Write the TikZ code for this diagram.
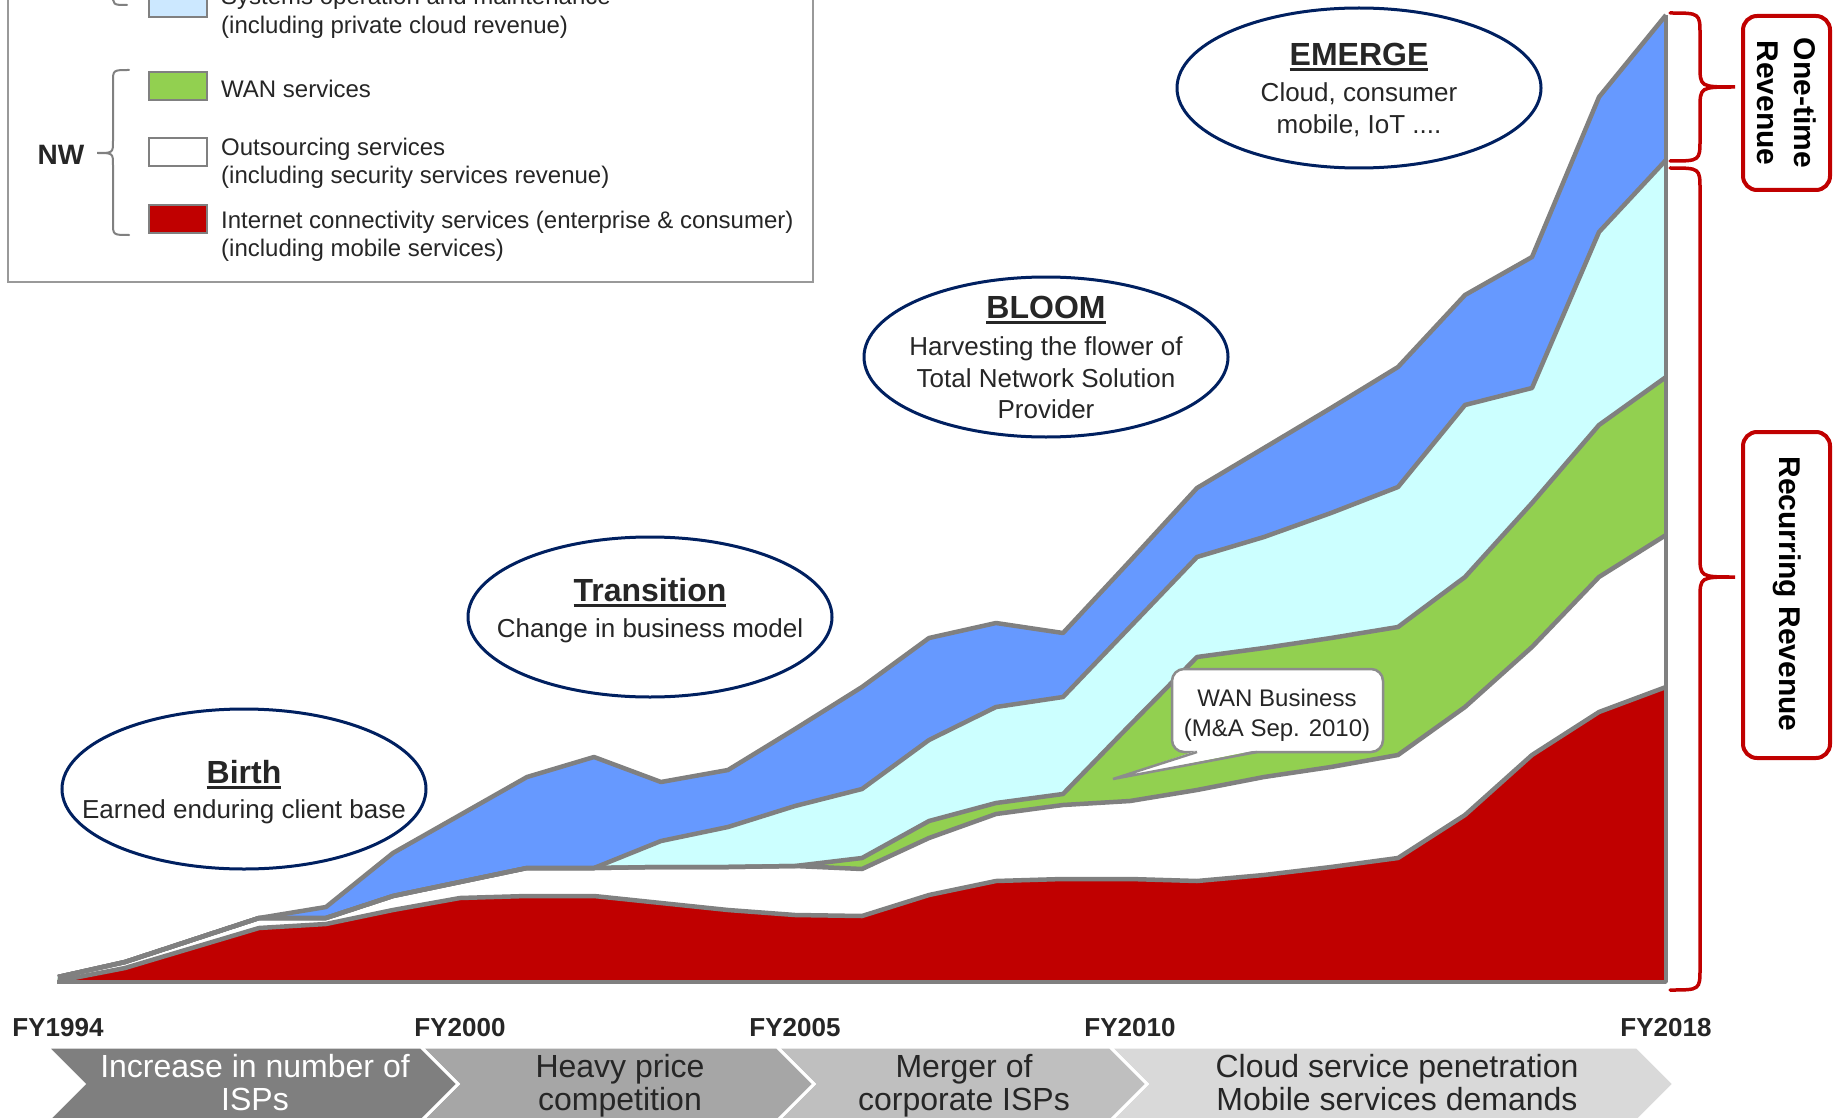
\documentclass[tikz,border=0pt]{standalone}
\usepackage{fontspec}
\setmainfont{Liberation Sans}
\usetikzlibrary{shapes.geometric}
\definecolor{cRed}{HTML}{C00000}
\definecolor{cBlue}{HTML}{6699FF}
\definecolor{cCyan}{HTML}{CCFFFF}
\definecolor{cGreen}{HTML}{92D050}
\definecolor{cLine}{HTML}{808080}
\definecolor{cNavy}{HTML}{002060}
\definecolor{cText}{HTML}{262626}
\definecolor{cLegBlue}{HTML}{CCE8FF}
\definecolor{cChevA}{HTML}{7F7F7F}
\definecolor{cChevB}{HTML}{A6A6A6}
\definecolor{cChevC}{HTML}{BFBFBF}
\definecolor{cChevD}{HTML}{D9D9D9}
\definecolor{cWan}{HTML}{8C8C8C}
\newcommand{\ulbold}[1]{\setbox0=\hbox{#1}\rlap{\rule[-5.5pt]{\wd0}{2.6pt}}\box0}
\tikzset{
 areaLine/.style={draw=cLine, line width=4.5pt, line join=round},
 phase/.style={ellipse, draw=cNavy, line width=3pt, minimum width=364pt, minimum height=160pt, inner sep=0pt},
 ttl/.style={font=\bfseries\fontsize{32}{38}\selectfont, text=cText, inner sep=0pt, text height=23pt, text depth=0pt},
 subt/.style={font=\fontsize{26}{31}\selectfont, text=cText, inner sep=0pt, text height=18.6pt, text depth=0pt},
 legtext/.style={font=\fontsize{24}{29}\selectfont, text=cText, inner sep=0pt, text height=17.2pt, text depth=0pt, anchor=west},
 legsq/.style={draw=cLine, line width=2pt, minimum width=58pt, minimum height=28pt, inner sep=0pt},
 fylbl/.style={font=\bfseries\fontsize{26}{31}\selectfont, text=cText, inner sep=0pt, text height=18.7pt, text depth=0pt},
 chevtext/.style={font=\fontsize{32}{33}\selectfont, inner sep=0pt, text height=23pt, text depth=0pt},
 chev/.style={draw=white, line width=3pt, line join=miter},
 rbrace/.style={draw=cRed, line width=3.5pt, line cap=round},
 gbrace/.style={draw=cLine, line width=2pt, line cap=round},
 rlabel/.style={draw=cRed, line width=4pt, rounded corners=14pt, fill=white},
 rtext/.style={font=\bfseries\fontsize{30}{37}\selectfont, text=black, rotate=-90, align=center, inner sep=0pt},
 wanbox/.style={draw=cWan, line width=2.5pt, rounded corners=12pt, fill=white, minimum width=211pt, minimum height=83pt, inner sep=0pt},
 wantext/.style={font=\fontsize{24}{29}\selectfont, text=cText, inner sep=0pt, text height=17.2pt, text depth=0pt},
}
\begin{document}
\begin{tikzpicture}[x=1pt,y=-1pt]
\path[use as bounding box] (0,0) rectangle (1833,1118);
\clip (0,0) rectangle (1833,1118);
\fill[white] (0,0) rectangle (1833,1118);

% ---- data points (L1 red top, L2 outsourcing top, L3 WAN top, L4 SO&M top, L5 total)
\foreach \i/\a/\b/\c/\d/\e in {
0/981/977/977/977/977,
1/968/962/962/962/962,
2/948/940/940/940/940,
3/928/918/918/918/918,
4/924/918/918/918/907,
5/910/896/896/896/853,
6/898/882/882/882/815,
7/896/868/868/868/777,
8/896/868/868/868/757,
9/903/867/867/841/782,
10/910/867/867/827/770,
11/915/866/866/806/729,
12/916/869/858/789/687,
13/895/838/821/740/638,
14/881/814/803/707/623,
15/879/805/794/697/633,
16/879/801/725/627/561,
17/881/790/657/557/488,
18/875/777/648/537/448,
19/867/767/638/513/408,
20/858/755/627/487/367,
21/815/707/577/405/295,
22/755/647/503/388/257,
23/712/577/425/232/97,
24/687/535/377/160/15}
{
 \coordinate (A\i) at ({58+67*\i},\a);
 \coordinate (B\i) at ({58+67*\i},\b);
 \coordinate (C\i) at ({58+67*\i},\c);
 \coordinate (D\i) at ({58+67*\i},\d);
 \coordinate (E\i) at ({58+67*\i},\e);
}
\coordinate (base0) at (57,982);
\coordinate (base1) at (1666,982);

% ---- stacked areas
\fill[cBlue] (base0) foreach \i in {0,...,24} { -- (E\i) } -- (base1) -- cycle;
\fill[cCyan] (base0) foreach \i in {0,...,24} { -- (D\i) } -- (base1) -- cycle;
\fill[cGreen] (base0) foreach \i in {0,...,24} { -- (C\i) } -- (base1) -- cycle;
\fill[white] (base0) foreach \i in {0,...,24} { -- (B\i) } -- (base1) -- cycle;
\fill[cRed] (base0) foreach \i in {0,...,24} { -- (A\i) } -- (base1) -- cycle;

\draw[areaLine] (A0) foreach \i in {1,...,24} { -- (A\i) };
\draw[areaLine] (B0) foreach \i in {1,...,24} { -- (B\i) };
\draw[areaLine] (C0) foreach \i in {1,...,24} { -- (C\i) };
\draw[areaLine] (D0) foreach \i in {1,...,24} { -- (D\i) };
\draw[areaLine] (E0) foreach \i in {1,...,24} { -- (E\i) };
\draw[areaLine, line width=3.5pt] (base0) -- (base1) -- (E24);

% ---- legend
\draw[draw=cLine!80, line width=1.5pt] (8,-30) rectangle (813,282);
\node[legsq, fill=cLegBlue] (sqIT) at (177.5,3) {};
\node[legsq, fill=cGreen] (sqWAN) at (177.5,86) {};
\node[legsq, fill=white] (sqOut) at (177.5,152) {};
\node[legsq, fill=cRed] (sqNet) at (177.5,219) {};
\node[legtext] (tIT1) at (221,-4) {Systems operation and maintenance};
\node[legtext] (tIT2) at (221,25) {(including private cloud revenue)};
\node[legtext] (tWAN) at (221,89) {WAN services};
\node[legtext] (tOut1) at (221,147) {Outsourcing services};
\node[legtext] (tOut2) at (221,175) {(including security services revenue)};
\node[legtext] (tNet1) at (221,220) {Internet connectivity services (enterprise \& consumer)};
\node[legtext] (tNet2) at (221,248) {(including mobile services)};
\node[font=\bfseries\fontsize{28}{32}\selectfont, text=cText, inner sep=0pt] (nw) at (61,155) {NW};
\draw[gbrace] (113,-40) -- (113,-6) .. controls (113,5) .. (127,5);
\draw[gbrace] (129,70) .. controls (113,70) .. (113,82) -- (113,141) .. controls (113,153) .. (97,153)
   .. controls (113,153) .. (113,165) -- (113,223) .. controls (113,235) .. (129,235);

% ---- phase ellipses
\node[phase] (birth) at (244,789) {};
\node[ttl] (birthT) at (244,772) {\ulbold{Birth}};
\node[subt] (birthS) at (244,809) {Earned enduring client base};

\node[phase] (trans) at (650,617) {};
\node[ttl] (transT) at (650,590) {\ulbold{Transition}};
\node[subt] (transS) at (650,628) {Change in business model};

\node[phase] (bloom) at (1046,357) {};
\node[ttl] (bloomT) at (1046,307) {\ulbold{BLOOM}};
\node[subt] (bloomS1) at (1046,346) {Harvesting the flower of};
\node[subt] (bloomS2) at (1046,378) {Total Network Solution};
\node[subt] (bloomS3) at (1046,409) {Provider};

\node[phase] (emerge) at (1359,88) {};
\node[ttl] (emergeT) at (1359,54) {\ulbold{EMERGE}};
\node[subt] (emergeS1) at (1359,92) {Cloud, consumer};
\node[subt] (emergeS2) at (1359,124) {mobile, IoT ....};

% ---- WAN callout
\node[wanbox] (wan) at (1277.5,710.5) {};
\fill[white] (1198,750.2) -- (1256,750.2) -- (1113,779) -- cycle;
\draw[draw=cWan, line width=2.5pt, line join=miter] (1197,752) -- (1113,779) -- (1257,752);
\node[wantext] (wan1) at (1277,698) {WAN Business};
\node[wantext] (wan2) at (1277,728) {(M\&A Sep. 2010)};

% ---- right braces and labels
\draw[rbrace] (1670,13) .. controls (1700,13) .. (1700,35) -- (1700,65) .. controls (1700,87) .. (1735,87)
   .. controls (1700,87) .. (1700,109) -- (1700,139) .. controls (1700,161) .. (1670,161);
\draw[rbrace] (1670,168) .. controls (1700,168) .. (1700,190) -- (1700,555) .. controls (1700,577) .. (1735,577)
   .. controls (1700,577) .. (1700,599) -- (1700,968) .. controls (1700,990) .. (1670,990);
\draw[rlabel] (1743,16) rectangle (1830,190);
\node[rtext] (oneTime) at (1787,103) {One-time\\Revenue};
\draw[rlabel] (1743,432) rectangle (1830,758);
\node[rtext] (recur) at (1787,594) {Recurring Revenue};

% ---- year labels
\node[fylbl] (fy94) at (58,1027) {FY1994};
\node[fylbl] (fy00) at (460,1027) {FY2000};
\node[fylbl] (fy05) at (795,1027) {FY2005};
\node[fylbl] (fy10) at (1130,1027) {FY2010};
\node[fylbl] (fy18) at (1666,1027) {FY2018};

% ---- chevrons
\filldraw[chev, fill=cChevD] (1110,1047) -- (1637,1047) -- (1674,1084) -- (1637,1121) -- (1110,1121) -- (1147,1084) -- cycle;
\filldraw[chev, fill=cChevC] (777,1047) -- (1110,1047) -- (1147,1084) -- (1110,1121) -- (777,1121) -- (814,1084) -- cycle;
\filldraw[chev, fill=cChevB] (421,1047) -- (777,1047) -- (814,1084) -- (777,1121) -- (421,1121) -- (458,1084) -- cycle;
\filldraw[chev, fill=cChevA] (47,1047) -- (421,1047) -- (458,1084) -- (421,1121) -- (47,1121) -- (84,1084) -- cycle;
\node[chevtext, text=white] (c1a) at (255,1066) {Increase in number of};
\node[chevtext, text=white] (c1b) at (255,1099) {ISPs};
\node[chevtext, text=cText] (c2a) at (620,1066) {Heavy price};
\node[chevtext, text=cText] (c2b) at (620,1099) {competition};
\node[chevtext, text=cText] (c3a) at (964,1066) {Merger of};
\node[chevtext, text=cText] (c3b) at (964,1099) {corporate ISPs};
\node[chevtext, text=cText] (c4a) at (1397,1066) {Cloud service penetration};
\node[chevtext, text=cText] (c4b) at (1397,1099) {Mobile services demands};
\end{tikzpicture}
\end{document}
